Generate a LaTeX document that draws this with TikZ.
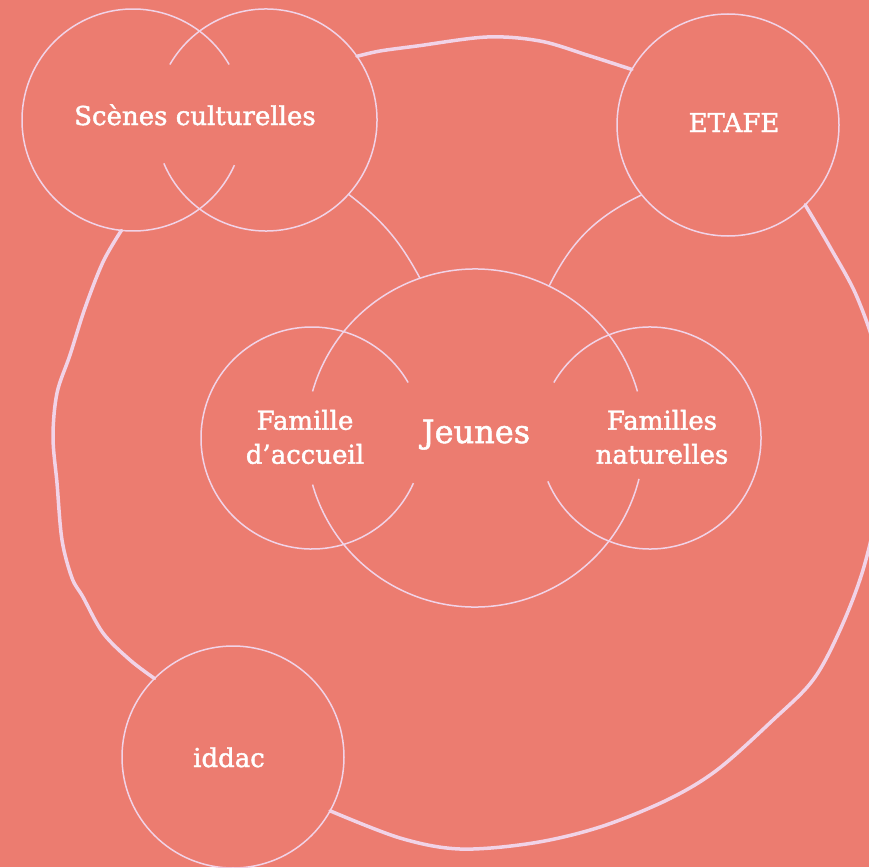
\documentclass[tikz,border=0pt]{standalone}
\usepackage{fontspec}
\setmainfont{DejaVu Serif}[FakeBold=1.6]
\definecolor{saumon}{HTML}{EC7C70}
\definecolor{lilas}{HTML}{F1D3E7}
\tikzset{
	rond/.style={circle, minimum size=222pt, inner sep=0pt, outer sep=0pt},
	trait/.style={draw=lilas, line width=1.5pt},
	boucle/.style={draw=lilas, line width=3.5pt, line cap=round, line join=round},
	etiquette/.style={text=white, font=\fontsize{26}{34}\selectfont, align=center, inner sep=0pt}
}

\begin{document}
\begin{tikzpicture}[x=1pt, y=1pt]
		\useasboundingbox (0,0) rectangle (869,-867);
		\fill[saumon] (0,0) rectangle (869,-867);

		% cercles
		\node[rond] (sc1) at (133,-120) {};
		\node[rond] (sc2) at (266,-120) {};
		\node[rond, trait] (etafe) at (728,-125) {};
		\node[rond, trait] (iddac) at (233,-757) {};
		\node[rond] (accueil) at (312,-438) {};
		\node[rond] (naturelles) at (650,-438) {};
		\node[rond, minimum size=338pt] (jeunes) at (475,-438) {};

		\draw[trait] (sc1.30) arc[start angle=30, end angle=336, radius=111pt];
		\draw[trait] (sc2.203) arc[start angle=203, end angle=510, radius=111pt];
		\draw[trait] (accueil.30) arc[start angle=30, end angle=336, radius=111pt];
		\draw[trait] (naturelles.203) arc[start angle=203, end angle=510, radius=111pt];
		\draw[trait] (jeunes.16) arc[start angle=16, end angle=164, radius=169pt];
		\draw[trait] (jeunes.196) arc[start angle=196, end angle=346, radius=169pt];

		% liens
		\draw[trait] (sc2.-42) to[bend left=12] (jeunes.109);
		\draw[trait] (etafe.219) to[bend right=19] (jeunes.64);

		% la boucle
		\draw[boucle] plot[smooth, tension=0.55] coordinates {(sc2.35) (380,-51) (417,-46) (487,-37) (540,-41) (587,-55) (etafe.150)};
		\draw[boucle] plot[smooth, tension=0.55] coordinates {(etafe.-46) (830,-247) (857,-297) (878,-360) (885,-430) (879,-500) (863,-570) (840,-630) (813,-680) (773,-720) (717,-770) (667,-800) (600,-827) (533,-843) (460,-849) (400,-838) (iddac.-29)};
		\draw[boucle] plot[smooth, tension=0.55] coordinates {(iddac.135) (130,-660) (103,-633) (83,-597) (72,-578) (62,-540) (57,-483) (53,-437) (57,-393) (70,-355) (85,-308) (103,-262) (sc1.264)};

		% textes
		\node[etiquette, anchor=base] (t-scenes) at (195,-125) {Scènes culturelles};
		\node[etiquette, anchor=base] (t-etafe) at (734,-132) {ETAFE};
		\node[etiquette, anchor=base] (t-iddac) at (229,-767) {iddac};
		\node[etiquette, font=\fontsize{32}{38}\selectfont, anchor=base] (t-jeunes) at (476,-443) {Jeunes};
		\node[etiquette] (t-accueil) at (305,-437) {Famille\\d’accueil};
		\node[etiquette] (t-naturelles) at (662,-437) {Familles\\naturelles};
	\end{tikzpicture}
\end{document}
